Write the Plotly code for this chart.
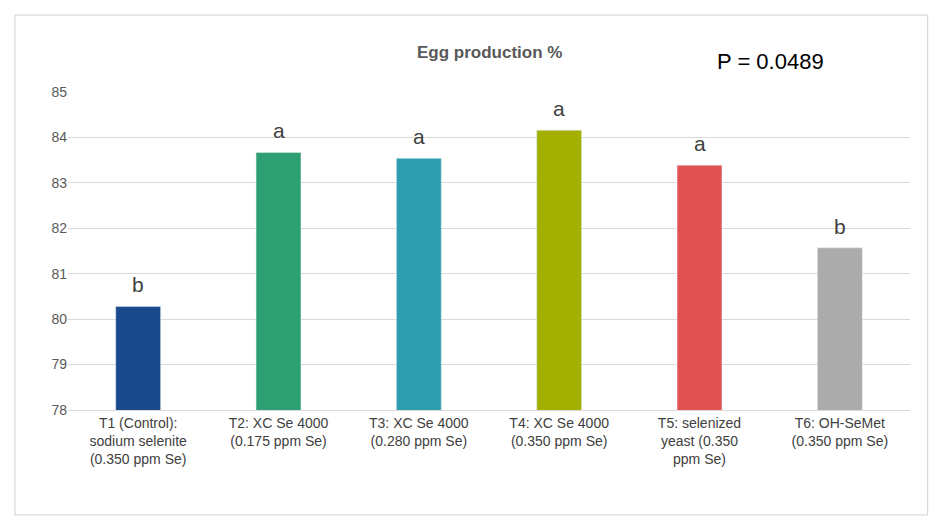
import plotly.graph_objects as go

categories = [
    "T1 (Control):<br>sodium selenite<br>(0.350 ppm Se)",
    "T2: XC Se 4000<br>(0.175 ppm Se)",
    "T3: XC Se 4000<br>(0.280 ppm Se)",
    "T4: XC Se 4000<br>(0.350 ppm Se)",
    "T5: selenized<br>yeast (0.350<br>ppm Se)",
    "T6: OH-SeMet<br>(0.350 ppm Se)",
]
egg_production = [80.28, 83.67, 83.54, 84.16, 83.39, 81.57]
letters = ["b", "a", "a", "a", "a", "b"]
colors = ["#1b4a8c", "#2e9e73", "#2e9dad", "#a3b000", "#e05252", "#ababab"]

fig = go.Figure(
    go.Bar(
        x=categories,
        y=egg_production,
        marker_color=colors,
        width=0.32,
    )
)

# significance letters above each bar
letter_notes = [
    dict(x=c, y=v, text=t, showarrow=False, yanchor="bottom", yshift=8,
         font=dict(size=21, color="#404040"))
    for c, v, t in zip(categories, egg_production, letters)
]

fig.update_layout(
    width=944,
    height=530,
    margin=dict(l=60, r=42, t=84, b=128),
    paper_bgcolor="white",
    plot_bgcolor="white",
    font=dict(family="Liberation Sans, Arial, sans-serif", color="#595959", size=14),
    showlegend=False,
    bargap=0.5,
    shapes=[
        dict(type="rect", xref="paper", yref="paper", x0=-0.063, x1=1.021, y0=-0.33, y1=1.242,
             line=dict(color="#d0d0d0", width=1)),
    ],
    annotations=letter_notes + [
        dict(text="<b>Egg production %</b>", xref="paper", yref="paper", x=0.5, y=1.16,
             showarrow=False, font=dict(size=17, color="#595959")),
        dict(text="P = 0.0489", xref="paper", yref="paper", x=0.9, y=1.14,
             showarrow=False, font=dict(size=22, color="black")),
    ],
)
fig.update_yaxes(range=[78, 85], dtick=1, showgrid=True, gridcolor="#d9d9d9",
                 zeroline=False, showline=False, ticks="", tickfont=dict(size=14))
fig.update_xaxes(showline=True, linecolor="#d9d9d9", tickfont=dict(size=14, color="#404040"))

fig.write_html("out.html")
